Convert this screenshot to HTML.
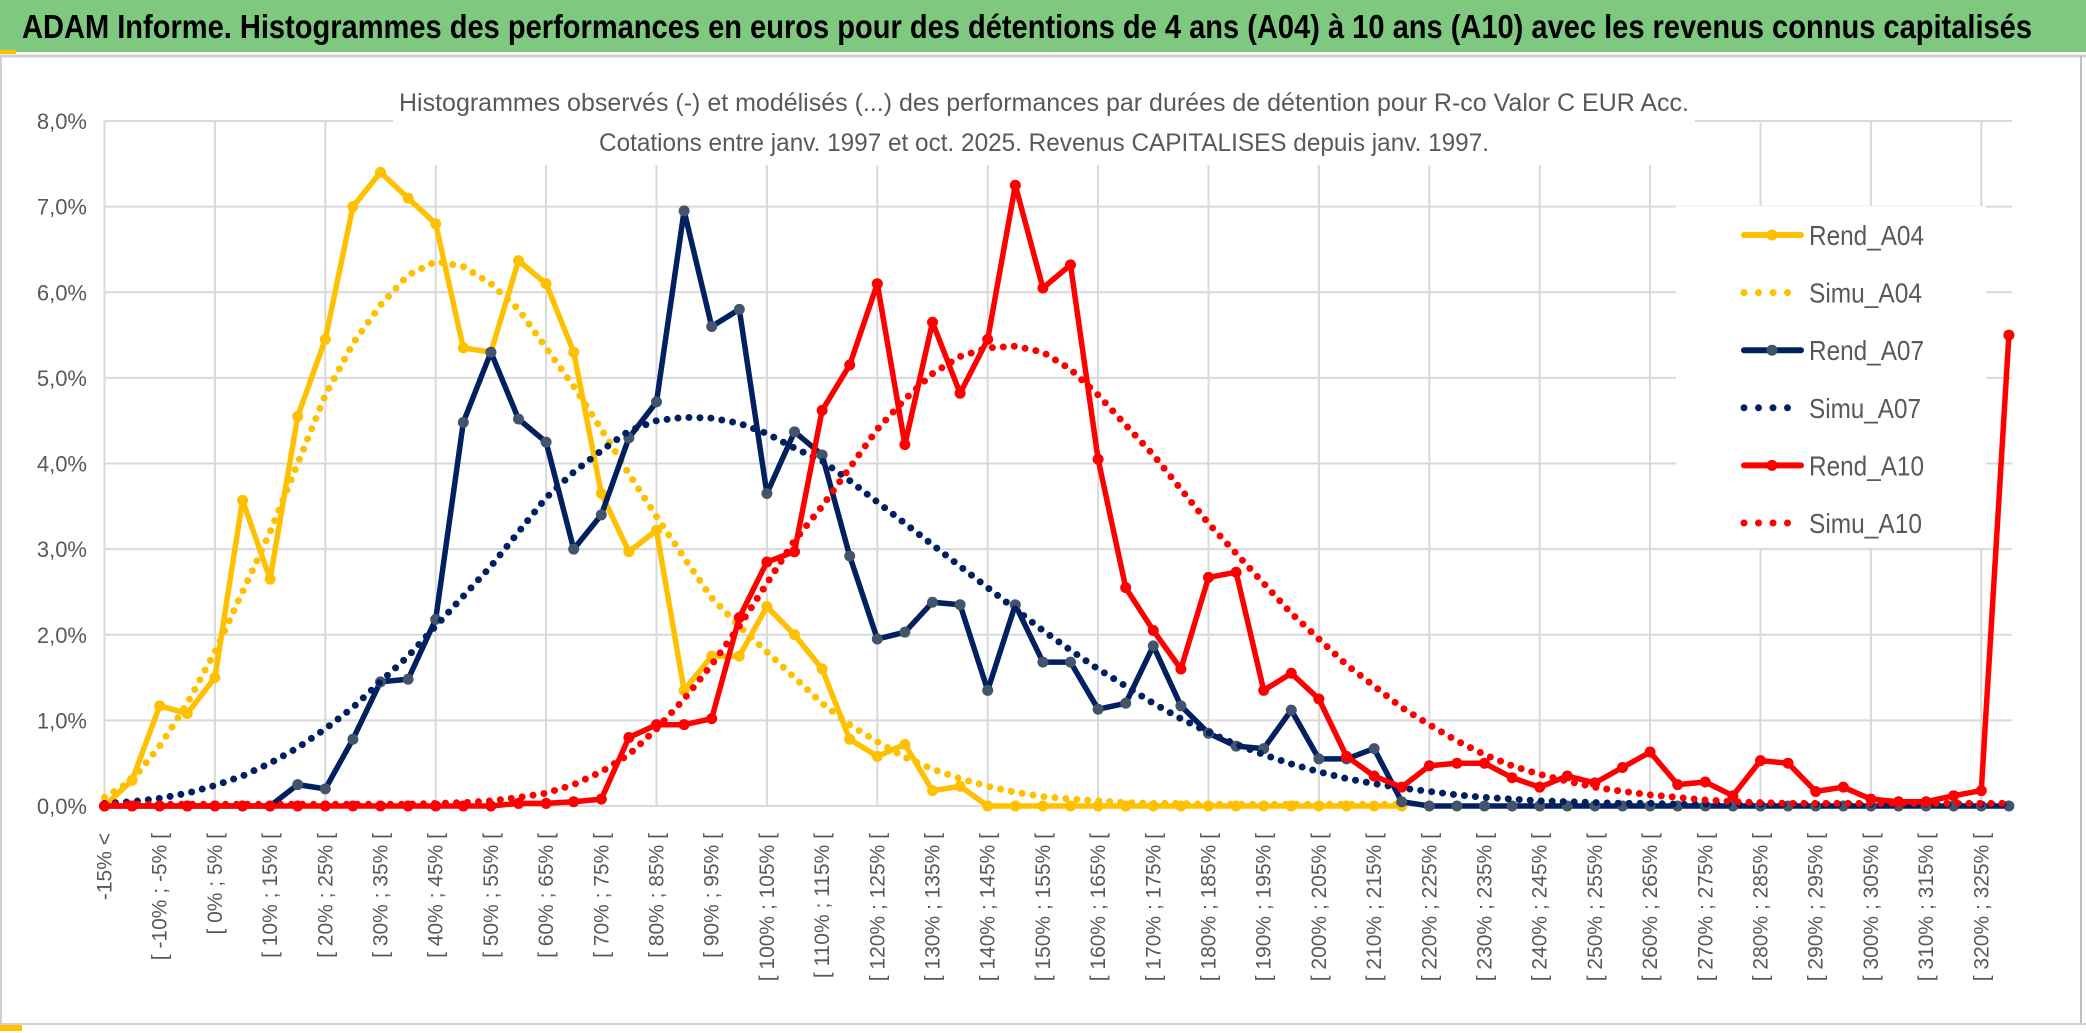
<!DOCTYPE html>
<html><head><meta charset="utf-8"><style>
html,body{margin:0;padding:0;background:#fff;}
svg{display:block;font-family:"Liberation Sans",sans-serif;}
</style></head><body>
<svg id="chart" width="2086" height="1033" viewBox="0 0 2086 1033" xmlns="http://www.w3.org/2000/svg">
<rect x="0" y="0" width="2086" height="1033" fill="#fff"/>
<rect x="0" y="0" width="2086" height="52" fill="#7ec87f"/>
<text x="22" y="38" font-size="33" font-weight="bold" fill="#000" textLength="2010" lengthAdjust="spacingAndGlyphs">ADAM Informe. Histogrammes des performances en euros pour des détentions de 4 ans (A04) à 10 ans (A10) avec les revenus connus capitalisés</text>
<rect x="0" y="50" width="16" height="4" fill="#ffc000"/>
<line x1="0" y1="56" x2="2086" y2="56" stroke="#d0d0d0" stroke-width="3"/>
<line x1="1" y1="56" x2="1" y2="1024" stroke="#d0d0d0" stroke-width="2"/>
<line x1="2081" y1="56" x2="2081" y2="1024" stroke="#bfbfbf" stroke-width="2"/>
<line x1="0" y1="1024" x2="2086" y2="1024" stroke="#d0d0d0" stroke-width="2"/>
<rect x="0" y="1025" width="22" height="6" fill="#ffc000"/>
<g id="grid"></g>
<g id="ylabels"></g>
<g id="xlabels"></g>
<rect x="393" y="92" width="1302" height="73" fill="#fff"/>
<text x="1044" y="111" font-size="25" fill="#595959" text-anchor="middle" textLength="1290" lengthAdjust="spacingAndGlyphs">Histogrammes observés (-) et modélisés (...) des performances par durées de détention pour R-co Valor C EUR Acc.</text>
<text x="1044" y="151" font-size="25" fill="#595959" text-anchor="middle" textLength="890" lengthAdjust="spacingAndGlyphs">Cotations entre janv. 1997 et oct. 2025. Revenus CAPITALISES depuis janv. 1997.</text>
<rect x="1676" y="206" width="310" height="342" fill="#fff"/>
<g id="series"></g>
<g id="legend"></g>
</svg>
<script>
const categoryCount = 70;
const yTicks = [0,1,2,3,4,5,6,7,8];
const yTickLabels = ["0,0%","1,0%","2,0%","3,0%","4,0%","5,0%","6,0%","7,0%","8,0%"];
const rendA04 = [0,0.3,1.17,1.08,1.5,3.57,2.65,4.55,5.45,7.0,7.4,7.1,6.8,5.35,5.3,6.37,6.1,5.3,3.65,2.97,3.22,1.35,1.75,1.75,2.33,2.0,1.6,0.78,0.58,0.72,0.18,0.23,0,0,0,0,0,0,0,0,0,0,0,0,0,0,0,0];
const simuA04 = [0.1,0.3,0.7,1.2,1.8,2.5,3.2,4.0,4.8,5.4,5.85,6.2,6.36,6.3,6.1,5.8,5.35,4.9,4.4,3.88,3.38,2.9,2.43,2.1,1.8,1.5,1.2,0.95,0.75,0.57,0.43,0.32,0.23,0.16,0.11,0.08,0.06,0.04,0.03,0.03,0.02,0.02,0.02,0.02,0.02,0.02,0.02,0.02];
const rendA07 = [0,0,0,0,0,0,0,0.25,0.2,0.78,1.45,1.48,2.18,4.48,5.3,4.52,4.25,3.0,3.4,4.3,4.72,6.95,5.6,5.8,3.65,4.37,4.1,2.92,1.95,2.03,2.38,2.35,1.35,2.35,1.68,1.68,1.13,1.2,1.87,1.17,0.85,0.7,0.67,1.12,0.55,0.55,0.67,0.05,0,0,0,0,0,0,0,0,0,0,0,0,0,0,0,0,0,0,0,0,0,0];
const simuA07 = [0.03,0.05,0.09,0.15,0.24,0.35,0.5,0.68,0.9,1.15,1.45,1.75,2.1,2.45,2.8,3.2,3.6,3.9,4.15,4.38,4.5,4.54,4.53,4.47,4.35,4.18,4.03,3.8,3.55,3.3,3.05,2.8,2.55,2.3,2.05,1.82,1.6,1.4,1.2,1.02,0.86,0.72,0.6,0.49,0.4,0.32,0.26,0.21,0.17,0.13,0.1,0.08,0.06,0.05,0.04,0.03,0.03,0.02,0.02,0.02,0.02,0.02,0.02,0.02,0.02,0.02,0.02,0.02,0.02,0.02];
const rendA10 = [0,0,0,0,0,0,0,0,0,0,0,0,0,0,0,0.03,0.03,0.05,0.08,0.8,0.95,0.95,1.02,2.2,2.85,2.97,4.62,5.15,6.1,4.22,5.65,4.82,5.45,7.25,6.05,6.32,4.05,2.55,2.05,1.6,2.67,2.73,1.35,1.55,1.25,0.58,0.35,0.22,0.47,0.5,0.5,0.33,0.22,0.35,0.27,0.45,0.63,0.25,0.28,0.12,0.53,0.5,0.17,0.22,0.08,0.05,0.05,0.12,0.18,5.5];
const simuA10 = [0.02,0.02,0.02,0.02,0.02,0.02,0.02,0.02,0.02,0.02,0.02,0.02,0.03,0.04,0.06,0.1,0.15,0.25,0.4,0.6,0.9,1.25,1.65,2.1,2.6,3.1,3.5,3.95,4.4,4.75,5.05,5.25,5.35,5.37,5.3,5.1,4.8,4.45,4.1,3.7,3.3,2.95,2.6,2.25,1.95,1.65,1.4,1.15,0.95,0.76,0.6,0.47,0.37,0.29,0.22,0.17,0.13,0.1,0.07,0.05,0.04,0.03,0.03,0.03,0.03,0.03,0.03,0.03,0.03,0.03];

const NS = "http://www.w3.org/2000/svg";
const X0 = 104.5, XSTEP = 27.6, Y0 = 806, YUNIT = 85.625;
function xPos(i){ return X0 + i*XSTEP; }
function yPos(v){ return Y0 - v*YUNIT; }
function mk(tag, attrs, parent){
  const el = document.createElementNS(NS, tag);
  for (const k in attrs) el.setAttribute(k, attrs[k]);
  parent.appendChild(el);
  return el;
}
function catLabel(i){
  if (i === 0) return "-15% <";
  const lo = -15 + 5*(i-1);
  return "[ " + lo + "% ; " + (lo+5) + "% [";
}
const grid = document.getElementById('grid');
yTicks.forEach(function(t){
  const l = mk('line', {x1: X0, x2: 2012, y1: yPos(t), y2: yPos(t), stroke: '#d9d9d9', 'stroke-width': 2}, grid);
  
  
});
for (let i = 0; i < categoryCount; i += 4) {
  const l = mk('line', {x1: xPos(i), x2: xPos(i), y1: yPos(8), y2: Y0, stroke: '#d9d9d9', 'stroke-width': 2}, grid);
  
  
}
const yl = document.getElementById('ylabels');
yTicks.forEach(function(t, k){
  const tx = mk('text', {x: 87, y: yPos(t) + 8, 'font-size': 22, fill: '#595959', 'text-anchor': 'end'}, yl);
  tx.textContent = yTickLabels[k];
  
  
});
const xl = document.getElementById('xlabels');
for (let i = 0; i < categoryCount; i += 2) {
  const x = xPos(i) + 7;
  const tx = mk('text', {x: x, y: 833, 'font-size': 21, fill: '#595959', 'text-anchor': 'end', transform: 'rotate(-90 ' + x + ' 833)'}, xl);
  tx.textContent = catLabel(i);
  
  
}
const sg = document.getElementById('series');
function drawSeries(name, data, color, dotted, markerColor){
  const pts = data.map(function(v, i){ return xPos(i).toFixed(1) + ',' + yPos(v).toFixed(1); }).join(' ');
  const attrs = {points: pts, fill: 'none', stroke: color, 'stroke-linejoin': 'round'};
  if (dotted) { attrs['stroke-width'] = 7; attrs['stroke-dasharray'] = '0 11'; attrs['stroke-linecap'] = 'round'; }
  else { attrs['stroke-width'] = 5.5; attrs['stroke-linecap'] = 'round'; }
  const pl = mk('polyline', attrs, sg);
  
  
  if (!dotted) {
    data.forEach(function(v, i){
      const c = mk('circle', {cx: xPos(i), cy: yPos(v), r: 5.5, fill: markerColor}, sg);
      
      
    });
  }
}
drawSeries('rend-a04', rendA04, '#ffc000', false, '#ffc000');
drawSeries('simu-a04', simuA04, '#ffc000', true);
drawSeries('rend-a07', rendA07, '#002060', false, '#44546a');
drawSeries('simu-a07', simuA07, '#002060', true);
drawSeries('rend-a10', rendA10, '#ff0000', false, '#ff0000');
drawSeries('simu-a10', simuA10, '#ff0000', true);

const legendNames = ["Rend_A04","Simu_A04","Rend_A07","Simu_A07","Rend_A10","Simu_A10"];
const legendColors = ["#ffc000","#ffc000","#002060","#002060","#ff0000","#ff0000"];
const legendTextWidths = [115,113,115,112,115,113];
const lg = document.getElementById('legend');
legendNames.forEach(function(n, k){
  const y = 235 + k*57.6;
  const dotted = n.indexOf('Simu') === 0;
  const ln = mk('line', {x1: 1744, x2: 1801, y1: y, y2: y, stroke: legendColors[k], 'stroke-width': dotted ? 7 : 6, 'stroke-linecap': 'round', 'stroke-dasharray': dotted ? '0 14.5' : 'none'}, lg);
  
  
  if (!dotted) {
    const c = mk('circle', {cx: 1772, cy: y, r: 5.5, fill: k === 2 ? '#44546a' : legendColors[k]}, lg);
    
    
  }
  const t = mk('text', {x: 1809, y: y + 10, 'font-size': 28, fill: '#595959', textLength: legendTextWidths[k], lengthAdjust: 'spacingAndGlyphs'}, lg);
  t.textContent = n;
  
  
});
</script>
</body></html>
